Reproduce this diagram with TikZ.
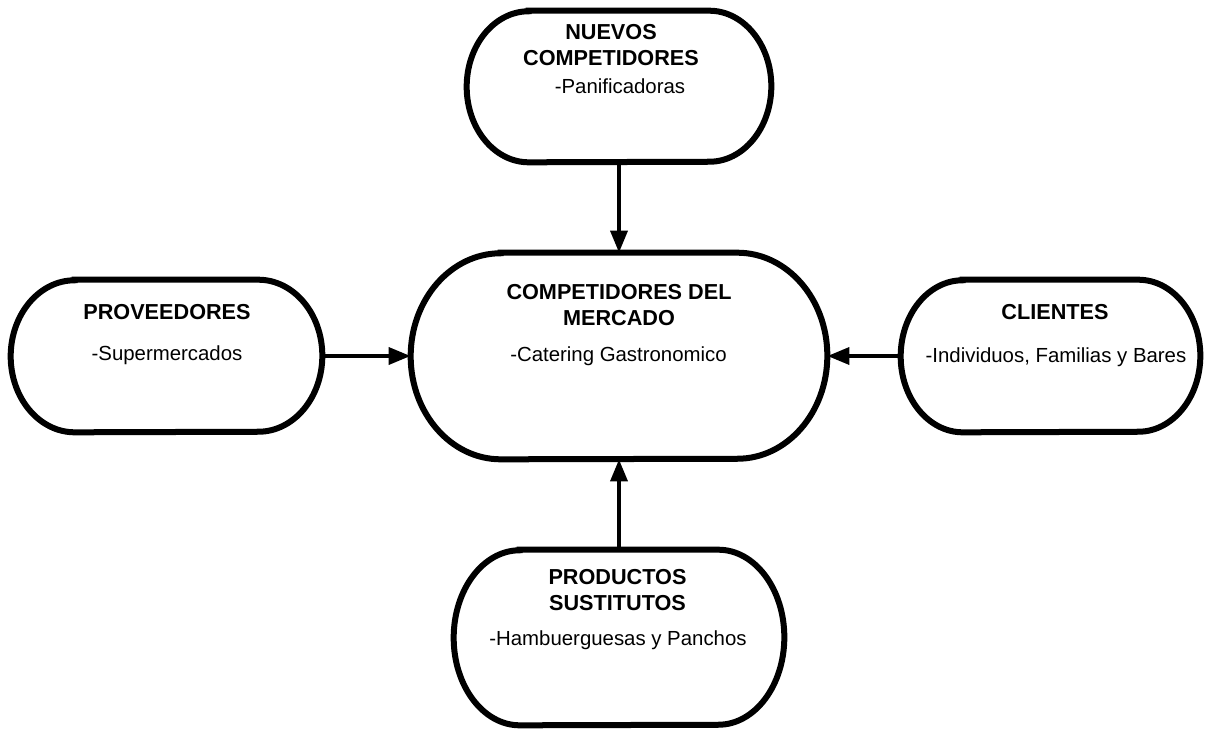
\documentclass[tikz,border=0pt]{standalone}
\usepackage{fontspec}
\setmainfont{Liberation Sans}
\usetikzlibrary{arrows.meta,positioning}

\tikzset{
  caja/.style={inner sep=0pt},
  borde/.style={line width=0.15cm},
  titulo/.style={anchor=north,inner sep=0pt,align=center,
    font=\bfseries\fontsize{15.4}{18.5}\selectfont},
  texto/.style={anchor=north,inner sep=0pt,font=\fontsize{14.5}{17}\selectfont},
  flecha/.style={-{Triangle[length=0.55cm,width=0.42cm]},line width=0.1cm}
}

\begin{document}
\begin{tikzpicture}[x=0.025cm,y=-0.025cm]
\useasboundingbox (0,0) rectangle (1205,732);
% cajas
\node[caja,minimum width=7.6cm,minimum height=3.775cm] (nuevos) at (619,86.5) {};
\node[caja,minimum width=10.4cm,minimum height=5.15cm] (centro) at (619,356) {};
\node[caja,minimum width=7.775cm,minimum height=3.8cm] (prov) at (166.5,356) {};
\node[caja,minimum width=7.475cm,minimum height=3.8cm] (clientes) at (1050.5,356) {};
\node[caja,minimum width=8.25cm,minimum height=4.375cm] (productos) at (619,637.5) {};
% bordes con extremos elipticos
\foreach \nodo/\rx/\ry in {nuevos/1.55cm/1.8875cm,centro/2.25cm/2.575cm,
    prov/1.6cm/1.9cm,clientes/1.55cm/1.9cm,productos/1.65cm/2.1875cm}
  \draw[borde] ([xshift=\rx]\nodo.north west) -- ([xshift=-\rx]\nodo.north east)
    arc[start angle=90,end angle=-90,x radius=\rx,y radius=\ry]
    -- ([xshift=\rx]\nodo.south west)
    arc[start angle=270,end angle=90,x radius=\rx,y radius=\ry] -- cycle;
% textos
\node[titulo] (tnuevos) at (611,24) {NUEVOS\\COMPETIDORES};
\node[texto] (dnuevos) at (620,78) {-Panificadoras};
\node[titulo] (tcentro) at (619,284) {COMPETIDORES DEL\\MERCADO};
\node[texto] (dcentro) at (618.5,346) {-Catering Gastronomico};
\node[titulo] (tprov) at (167,304) {PROVEEDORES};
\node[texto] (dprov) at (167,345) {-Supermercados};
\node[titulo] (tclientes) at (1055,304) {CLIENTES};
\node[texto] (dclientes) at (1056,347) {-Individuos, Familias y Bares};
\node[titulo] (tproductos) at (617.5,569) {PRODUCTOS\\SUSTITUTOS};
\node[texto] (dproductos) at (618,630) {-Hambuerguesas y Panchos};
% flechas
\draw[flecha] (nuevos.south) -- (centro.north);
\draw[flecha] (prov.east) -- (centro.west);
\draw[flecha] (clientes.west) -- (centro.east);
\draw[flecha] (productos.north) -- (centro.south);
\end{tikzpicture}
\end{document}
